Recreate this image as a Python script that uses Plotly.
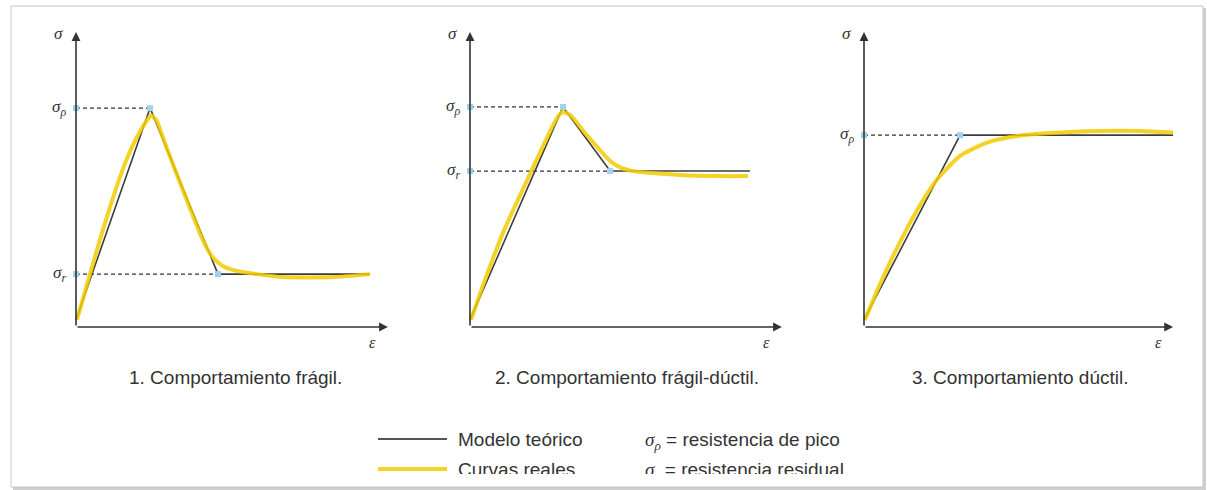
import plotly.graph_objects as go

W, H = 1207, 490

# ---------------------------------------------------------------- data ----
panel_titles = [
    "1. Comportamiento frágil.",
    "2. Comportamiento frágil-dúctil.",
    "3. Comportamiento dúctil.",
]

# theoretical models (strain, stress) in arbitrary units
model1_eps = [0.0, 2.39, 4.58, 9.48]
model1_sig = [0.24, 7.37, 1.78, 1.78]
model2_eps = [0.0, 3.00, 4.52, 9.03]
model2_sig = [0.24, 7.41, 5.25, 5.25]
model3_eps = [0.0, 3.10, 9.97]
model3_sig = [0.24, 6.46, 6.46]

# measured (real) curves
real1_eps = [0.03, 0.26, 0.45, 0.77, 1.10, 1.45, 1.80, 2.10, 2.30, 2.42, 2.60, 2.85,
             3.10, 3.42, 3.75, 4.02, 4.24, 4.48, 4.78, 5.22, 5.84, 6.68, 8.29, 9.48]
real1_sig = [0.24, 1.08, 1.78, 2.93, 4.05, 5.14, 6.05, 6.65, 6.97, 7.13, 6.95, 6.25,
             5.55, 4.68, 3.80, 3.10, 2.62, 2.27, 2.03, 1.88, 1.78, 1.68, 1.68, 1.78]
real2_eps = [0.03, 0.48, 1.13, 1.77, 2.42, 2.77, 2.97, 3.23, 3.71, 4.13, 4.52, 4.90,
             5.32, 5.81, 6.77, 8.06, 8.97]
real2_sig = [0.24, 1.58, 3.33, 4.78, 6.23, 6.97, 7.24, 7.14, 6.53, 6.03, 5.59, 5.35,
             5.24, 5.19, 5.12, 5.08, 5.08]
real3_eps = [0.03, 0.52, 1.16, 1.81, 2.32, 3.10, 3.97, 4.94, 6.00, 7.61, 8.90, 9.97]
real3_sig = [0.24, 1.45, 2.86, 4.11, 4.92, 5.76, 6.21, 6.43, 6.53, 6.60, 6.60, 6.55]

# characteristic points: (subscript, index into model arrays)
marks1 = [("ρ", 1), ("r", 2)]
marks2 = [("ρ", 1), ("r", 2)]
marks3 = [("ρ", 1)]

legend_labels = ["Modelo teórico", "Curvas reales"]
legend_notes = ["resistencia de pico", "resistencia residual"]
legend_subs = ["ρ", "r"]

# -------------------------------------------------------------- styles ----
BLACK = "#3c3c3c"
YELLOW = "rgba(242, 202, 0, 0.85)"
BLUE = "#9fd2ec"
TEXT = "#333333"
SANS = "Liberation Sans, Arial, sans-serif"
SERIF = "Liberation Serif, Times New Roman, serif"

# pixel geometry of each panel: y-axis position, px per unit
axis_x0 = [76, 470, 864]
axis_y0 = 327
sx, sy = 31.0, 29.7
xr = [-1.0, 10.5]
yr = [-1.0, 10.5]
x_tip = [10.06, 10.06, 9.97]
y_tip = 9.93


def px(x):
    return x / W


def py(y):
    return 1 - y / H


panels = [
    (model1_eps, model1_sig, real1_eps, real1_sig, marks1),
    (model2_eps, model2_sig, real2_eps, real2_sig, marks2),
    (model3_eps, model3_sig, real3_eps, real3_sig, marks3),
]

fig = go.Figure()
annotations = []
layout_axes = {}

for i, (m_eps, m_sig, r_eps, r_sig, marks) in enumerate(panels):
    n = "" if i == 0 else str(i + 1)
    xa, ya = "x" + n, "y" + n
    x0 = axis_x0[i]
    layout_axes["xaxis" + n] = dict(
        domain=[px(x0 + sx * xr[0]), px(x0 + sx * xr[1])],
        range=xr, visible=False, anchor=ya, fixedrange=True,
    )
    layout_axes["yaxis" + n] = dict(
        domain=[py(axis_y0 - sy * yr[0]), py(axis_y0 - sy * yr[1])],
        range=yr, visible=False, anchor=xa, fixedrange=True,
    )

    # dashed guides from the stress axis to each characteristic point
    for lab, k in marks:
        fig.add_trace(go.Scatter(
            x=[0, m_eps[k]], y=[m_sig[k], m_sig[k]], mode="lines",
            line=dict(color="#333333", width=1.3, dash="4px,3px"),
            xaxis=xa, yaxis=ya, hoverinfo="skip", showlegend=False,
        ))

    # theoretical model
    fig.add_trace(go.Scatter(
        x=m_eps, y=m_sig, mode="lines", line=dict(color=BLACK, width=1.6),
        xaxis=xa, yaxis=ya, showlegend=False, hoverinfo="skip",
    ))
    # real curve
    fig.add_trace(go.Scatter(
        x=r_eps, y=r_sig, mode="lines",
        line=dict(color=YELLOW, width=4, shape="spline", smoothing=0.6),
        xaxis=xa, yaxis=ya, showlegend=False, hoverinfo="skip",
    ))

    # characteristic points and their axis ticks
    mx, my = [], []
    for lab, k in marks:
        mx += [0, m_eps[k]]
        my += [m_sig[k], m_sig[k]]
        annotations.append(dict(
            x=-0.25, y=m_sig[k], xref=xa, yref=ya, xanchor="right", yanchor="middle",
            text=f"<i>σ<sub>{lab}</sub></i>", showarrow=False,
            font=dict(family=SERIF, size=17, color=TEXT),
        ))
    fig.add_trace(go.Scatter(
        x=mx, y=my, mode="markers",
        marker=dict(color=BLUE, size=6, symbol="square"),
        xaxis=xa, yaxis=ya, showlegend=False, hoverinfo="skip", cliponaxis=False,
    ))

    # axes with arrowheads
    annotations.append(dict(
        x=x_tip[i], y=0, ax=0, ay=0, xref=xa, yref=ya, axref=xa, ayref=ya,
        showarrow=True, arrowhead=2, arrowsize=1.1, arrowwidth=1.6,
        arrowcolor="#333333", text="",
    ))
    annotations.append(dict(
        x=0, y=y_tip, ax=0, ay=0, xref=xa, yref=ya, axref=xa, ayref=ya,
        showarrow=True, arrowhead=2, arrowsize=1.1, arrowwidth=1.6,
        arrowcolor="#333333", text="",
    ))
    annotations.append(dict(
        x=-0.55, y=y_tip - 0.05, xref=xa, yref=ya, text="<i>σ</i>", showarrow=False,
        font=dict(family=SERIF, size=17, color=TEXT),
    ))
    annotations.append(dict(
        x=x_tip[i] - 0.48, y=-0.52, xref=xa, yref=ya, text="<i>ε</i>", showarrow=False,
        font=dict(family=SERIF, size=16, color=TEXT),
    ))

# panel captions
caption_x = [235, 627, 1020]
for cx, title in zip(caption_x, panel_titles):
    annotations.append(dict(
        x=px(cx), y=py(377), xref="paper", yref="paper", text=title,
        xanchor="center", yanchor="middle",
        showarrow=False, font=dict(family=SANS, size=19, color=TEXT),
    ))

# legend block, clipped at its lower edge
clip_y = 474
layout_axes["xaxis4"] = dict(domain=[0, 1], range=[0, W], visible=False,
                             anchor="y4", fixedrange=True)
layout_axes["yaxis4"] = dict(domain=[py(clip_y), py(420)], range=[clip_y, 420],
                             visible=False, anchor="x4", fixedrange=True)

legend_rows = [439, 469]
legend_styles = [dict(color="#555555", width=2.2), dict(color=YELLOW, width=4)]
serif_name = SERIF.split(",")[0]
for row, style, lab, note, sub in zip(legend_rows, legend_styles,
                                      legend_labels, legend_notes, legend_subs):
    fig.add_trace(go.Scatter(
        x=[378, 447], y=[row, row], mode="lines", line=style,
        xaxis="x4", yaxis="y4", showlegend=False, hoverinfo="skip",
    ))
    fig.add_trace(go.Scatter(
        x=[458, 645], y=[row + 2.5, row + 2.5], mode="text",
        text=[lab,
              f"<span style='font-family:{serif_name}'><i>σ<sub>{sub}</sub></i></span> = {note}"],
        textposition="middle right",
        textfont=dict(family=SANS, size=19, color=TEXT),
        xaxis="x4", yaxis="y4", showlegend=False, hoverinfo="skip",
        cliponaxis=True,
    ))

# framed box with a soft shadow
shapes = [
    dict(type="rect", xref="paper", yref="paper",
         x0=px(13), x1=px(1206), y0=py(490), y1=py(8),
         fillcolor="#cfcfcf", line=dict(width=0), layer="below"),
    dict(type="rect", xref="paper", yref="paper",
         x0=px(11), x1=px(1203), y0=py(487), y1=py(6),
         fillcolor="white", line=dict(color="#c6c6c6", width=1), layer="below"),
]

fig.update_layout(
    width=W, height=H, margin=dict(l=0, r=0, t=0, b=0),
    paper_bgcolor="white", plot_bgcolor="rgba(0,0,0,0)",
    annotations=annotations, shapes=shapes, showlegend=False,
    **layout_axes,
)

fig.write_html("out.html")
